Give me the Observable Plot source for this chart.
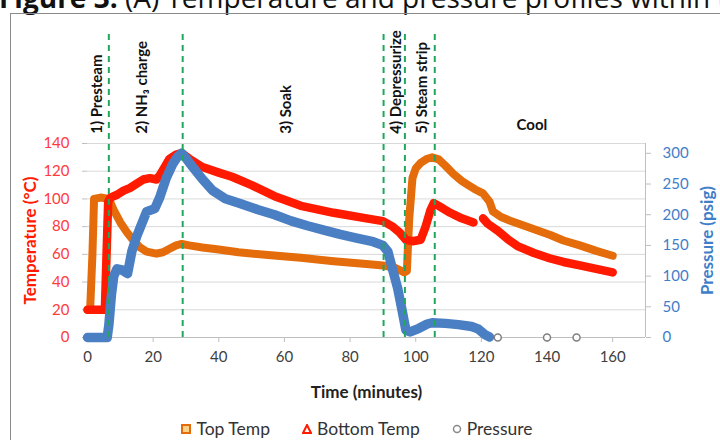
<!DOCTYPE html>
<html><head><meta charset="utf-8">
<script src="https://cdn.jsdelivr.net/npm/d3@7"></script>
<script src="https://cdn.jsdelivr.net/npm/@observablehq/plot@0.6"></script>
<style>
body{margin:0;background:#fff;}
#wrap{position:relative;width:720px;height:440px;overflow:hidden;background:#fff;}
#title{position:absolute;left:-1px;top:-22px;font-family:"Open Sans",sans-serif;font-size:28px;line-height:38px;white-space:nowrap;color:#111;}
#box{position:absolute;left:10px;top:13px;width:800px;height:500px;border:1.5px solid #8a8a8a;z-index:2;pointer-events:none;background:transparent;}
#chart{position:absolute;left:0;top:0;}
#legend{position:absolute;top:418px;left:0;width:714px;display:flex;justify-content:center;align-items:center;font-family:Lato,sans-serif;font-size:17.5px;color:#333;}
.item{display:flex;align-items:center;margin:0 16px;}
.item svg{margin-right:5px;}
</style></head>
<body><div id="wrap">
<div id="title"><b>Figure 3.</b> (A) Temperature and pressure profiles within the reactor</div>
<div id="box"></div>
<div id="chart"></div>
<div id="legend"></div>
</div>
<script>
// ---- data ----
const seriesNames = ["Top Temp", "Bottom Temp", "Pressure"];
const timeTicks = [0, 20, 40, 60, 80, 100, 120, 140, 160];
const tempTicks = [0, 20, 40, 60, 80, 100, 120, 140];
const pressTicks = [0, 50, 100, 150, 200, 250, 300];

const topTime = [0,0.8,1.5,2,4,6.5,8,10,12,14,16,18,21,23,25,27,28.7,31,35,40,46,55,65,75,85,90,94,96.5,97.3,98,99,100,101.5,103.5,105,107,109,111.5,114,116,118,120.5,122.5,123.5,126,129,135,141,145,150,155,160];
const topTemp = [20,20,60,100,101,100,92,83,76,70,65,62,60.5,61.5,64,66.5,67.5,66.5,65,63.5,61.5,59.5,57.5,55,53,52,50,47,48,85,115,122,126,129,130,128.5,124,118,113,110,107,104,98,91,87,84,79,74,70,66.5,62.5,59];

const botTime = [0,5.3,5.8,6.3,7,9,11,13,15,17,19,21,22,23.5,25,27,28.7,31,35,40,44,46,50,57,65,75,85,90,93,95,97,99,101.5,103,104.5,105.5,107,110.5,114,117.6,119,120.5,122,125,128,131,136,141,145,150,155,160];
const botTemp = [20,20,60,98,101,103,106,108,111,114,115,114,117,123,129,132,133,129,123,119,116,114,110,102,95,90,86,84,80,76,70.5,69.5,70.5,80,92,97,95,90,86,83,null,86,82,77,71,66,61,57,54.5,52,49.5,47];

const presTime = [0,6,6.5,7.3,8,9,10.5,12.2,13.5,15,16.5,18,20.5,22,24,26,27.5,28.7,30,32,35,38,42,46,52,57,62,67,72,77,82,87,90,91.5,93,94.5,96,97,98.3,101,103.5,105,109,113,117,119,121,122.5];
const presVal = [0,0,20,70,100,112,110,104,140,165,185,205,210,228,260,283,295,300,292,278,258,240,226,219,208,200,190,182,175,168,162,156,150,140,110,80,40,12,9,15,22,24,23,21,18,14,5,1];

const presDotTime = [125, 140, 149];
const presDotVal = [0, 0, 0];

const phaseTimes = [6.5, 29, 90.2, 96.7, 105.8];
const phaseLabels = ["1) Presteam", "2) NH\u2083 charge", "3) Soak", "4) Depressurize", "5) Steam strip"];
const phaseLabelTimes = [3, 16.8, 60.4, 94.1, 102.1];
const coolLabel = "Cool";
const coolTime = 135.4;

// ---- build ----
const ORANGE = "#e46c0a", RED = "#ff1a00", BLUE = "#4a7fc4", GREEN = "#1fa85c";
const k = 140 / 316; // pressure -> temperature-axis units
const topData = topTime.map((t, i) => ({t, v: topTemp[i]}));
const botData = botTime.map((t, i) => ({t, v: botTemp[i]}));
const presData = presTime.map((t, i) => ({t, v: presVal[i] * k}));
const dotData = presDotTime.map((t, i) => ({t, v: presDotVal[i] * k}));
const labelData = phaseLabels.map((s, i) => ({s, t: phaseLabelTimes[i]}));

const chart = Plot.plot({
  width: 720, height: 405,
  marginTop: 143, marginBottom: 68, marginLeft: 87, marginRight: 75,
  x: {domain: [0, 170], label: null},
  y: {domain: [0, 140], label: null},
  style: {background: "transparent", fontFamily: "Lato, sans-serif", fontSize: "15px", overflow: "visible"},
  marks: [
    Plot.gridY(tempTicks.filter(d => d > 0), {stroke: "#d9d9d9", strokeOpacity: 1}),
    Plot.ruleX([170], {y1: 0, y2: 140, stroke: "#bfbfbf"}),
    Plot.ruleY([0], {stroke: "#bfbfbf"}),
    Plot.axisX(timeTicks, {tickSize: 5, tickPadding: 9, stroke: "#bfbfbf", fill: "#404040", fontSize: 15, label: null}),
    Plot.axisY(tempTicks, {anchor: "left", tickSize: 5, tickPadding: 13, stroke: "#bfbfbf", fill: "#ff3b3b", fontSize: 15, label: null}),
    Plot.axisY(pressTicks.map(p => p * k), {anchor: "right", tickSize: 5, tickPadding: 12, stroke: "#bfbfbf", fill: "#3f7ec8", fontSize: 15, label: null, tickFormat: d => String(Math.round(d / k))}),
    Plot.line(topData, {x: "t", y: "v", stroke: ORANGE, strokeWidth: 8, strokeLinejoin: "round", strokeLinecap: "round"}),
    Plot.line(botData, {x: "t", y: "v", stroke: RED, strokeWidth: 8.5, strokeLinejoin: "round", strokeLinecap: "round"}),
    Plot.line(presData, {x: "t", y: "v", stroke: BLUE, strokeWidth: 9.5, strokeLinejoin: "round", strokeLinecap: "round"}),
    Plot.dot(dotData, {x: "t", y: "v", r: 3.5, stroke: "#7f7f7f", strokeWidth: 1.5, fill: "white"}),
    Plot.ruleX(phaseTimes, {y1: 0, y2: 222, stroke: GREEN, strokeWidth: 2, strokeDasharray: "6,5"}),
    Plot.text(labelData, {x: "t", y: 147, text: "s", rotate: -90, textAnchor: "start", fontWeight: "bold", fontSize: 15, fill: "#111"}),
    Plot.text([coolLabel], {x: coolTime, y: 153, fontWeight: "bold", fontSize: 15, fill: "#111"}),
    Plot.text(["Temperature (\u00B0C)"], {frameAnchor: "left", dx: -57, rotate: -90, textAnchor: "middle", lineAnchor: "middle", fill: "#ff1a00", fontWeight: "bold", fontSize: 17}),
    Plot.text(["Pressure (psig)"], {frameAnchor: "right", dx: 62, rotate: -90, textAnchor: "middle", lineAnchor: "middle", fill: "#3f7ec8", fontWeight: "bold", fontSize: 17}),
    Plot.text(["Time (minutes)"], {frameAnchor: "bottom", dy: 55, lineAnchor: "middle", fill: "#222", fontWeight: "bold", fontSize: 17})
  ]
});
document.getElementById("chart").appendChild(chart);

// legend
const markers = [
  '<svg width="10" height="10"><rect x="1" y="1" width="8" height="8" fill="#fbd28a" stroke="' + ORANGE + '" stroke-width="2"/></svg>',
  '<svg width="10" height="10"><polygon points="5,1 9,9 1,9" fill="#fff" stroke="' + RED + '" stroke-width="2"/></svg>',
  '<svg width="10" height="10"><circle cx="5" cy="5" r="3.5" fill="#fff" stroke="#8a8a8a" stroke-width="1.5"/></svg>'
];
const lg = document.getElementById("legend");
seriesNames.forEach((n, i) => {
  const d = document.createElement("div");
  d.className = "item";
  d.innerHTML = markers[i] + "<span>" + n + "</span>";
  lg.appendChild(d);
});
</script>
</body></html>
